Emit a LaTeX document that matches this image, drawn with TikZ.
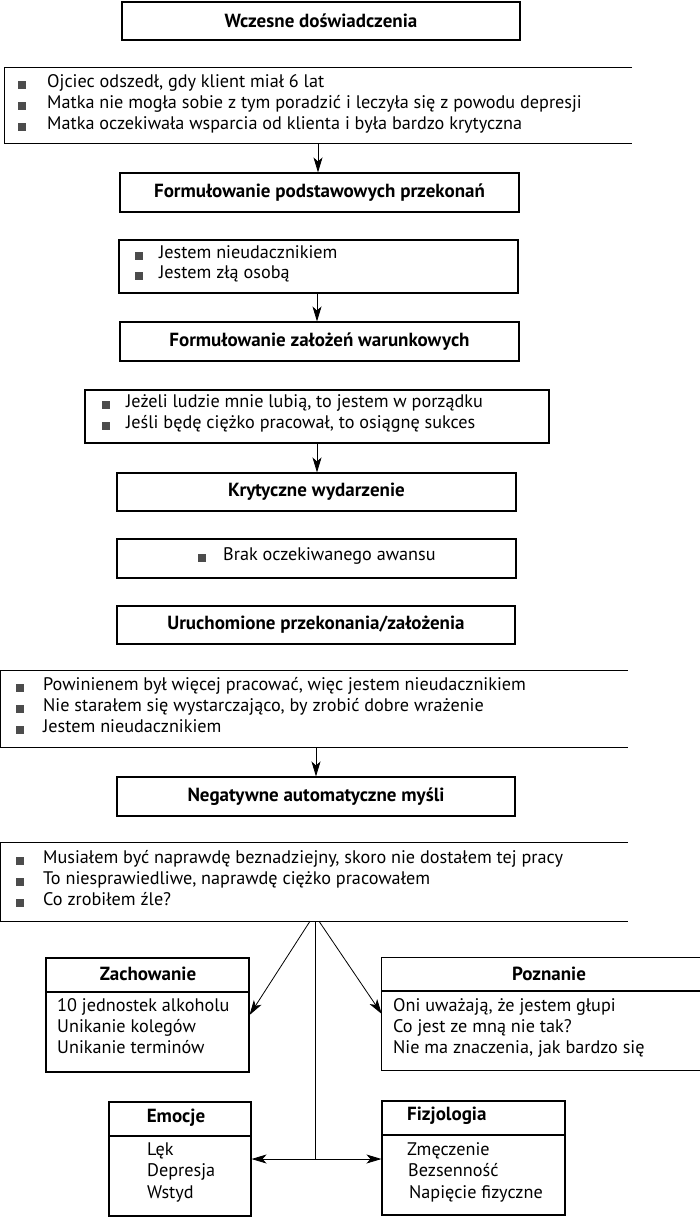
\documentclass[tikz,border=0pt]{standalone}
\usepackage{fontspec}
\setmainfont{PT Sans}
\usetikzlibrary{arrows.meta,calc}
\newcommand\bitem[5]{%
  \node[bul] (#1b) at (#2,#4) {};
  \node[txt] (#1) at (#3,#4) {#5};}
\begin{document}
\begin{tikzpicture}[x=1pt,y=-1pt,
  box/.style={draw, line width=1.1pt, inner sep=0pt, font=\bfseries\fontsize{19}{22}\selectfont},
  obox/.style={inner sep=0pt},
  edge/.style={line width=1.1pt},
  txt/.style={anchor=mid west, inner sep=0pt, font=\fontsize{18.2}{21}\selectfont},
  ttl/.style={inner sep=0pt, font=\bfseries\fontsize{19}{22}\selectfont},
  bul/.style={fill=black!70, minimum size=7.5pt, inner sep=0pt},
  arr/.style={-{Stealth[length=15pt,width=9pt,inset=4pt]}, line width=0.8pt},
  con/.style={line width=0.8pt}]
\useasboundingbox (0,0) rectangle (700,1218);
\fill[white] (0,0) rectangle (700,1218);

% 1
\node[box, minimum width=398pt, minimum height=38pt] (b1) at (321,21) {Wczesne doświadczenia};
% 2
\node[obox, minimum width=627pt, minimum height=75pt] (b2) at (318.5,105.5) {};
\draw[edge] (b2.north east) -- (b2.north west) -- (b2.south west) -- (b2.south east);
\bitem{i21}{22}{47}{85}{Ojciec odszedł, gdy klient miał 6 lat}
\bitem{i22}{22}{47}{106}{Matka nie mogła sobie z tym poradzić i leczyła się z powodu depresji}
\bitem{i23}{22}{47}{127}{Matka oczekiwała wsparcia od klienta i była bardzo krytyczna}
% 3
\node[box, minimum width=399pt, minimum height=39pt] (b3) at (319.5,192.5) {Formułowanie podstawowych przekonań};
% 4
\node[box, minimum width=399pt, minimum height=53pt] (b4) at (318.5,266.5) {};
\bitem{i41}{139}{159}{256}{Jestem nieudacznikiem}
\bitem{i42}{139}{159}{276}{Jestem złą osobą}
% 5
\node[box, minimum width=399pt, minimum height=39pt] (b5) at (319.5,341.5) {Formułowanie założeń warunkowych};
% 6
\node[box, minimum width=464pt, minimum height=53pt] (b6) at (317,416.5) {};
\bitem{i61}{106}{126}{405}{Jeżeli ludzie mnie lubią, to jestem w porządku}
\bitem{i62}{106}{126}{426}{Jeśli będę ciężko pracował, to osiągnę sukces}
% 7
\node[box, minimum width=399pt, minimum height=38pt] (b7) at (316.5,492) {Krytyczne wydarzenie};
% 8
\node[box, minimum width=399pt, minimum height=39pt] (b8) at (316.5,558.5) {};
\bitem{i81}{202}{223}{558}{Brak oczekiwanego awansu}
% 9
\node[box, minimum width=398pt, minimum height=38pt] (b9) at (316,625) {Uruchomione przekonania/założenia};
% 10
\node[obox, minimum width=627pt, minimum height=76pt] (b10) at (314.5,709) {};
\draw[edge] (b10.north east) -- (b10.north west) -- (b10.south west) -- (b10.south east);
\bitem{i101}{20}{43}{688}{Powinienem był więcej pracować, więc jestem nieudacznikiem}
\bitem{i102}{20}{43}{709}{Nie starałem się wystarczająco, by zrobić dobre wrażenie}
\bitem{i103}{20}{43}{730}{Jestem nieudacznikiem}
% 11
\node[box, minimum width=398pt, minimum height=39pt] (b11) at (316,796.5) {Negatywne automatyczne myśli};
% 12
\node[obox, minimum width=627pt, minimum height=78pt] (b12) at (314.5,882) {};
\draw[edge] (b12.north east) -- (b12.north west) -- (b12.south west) -- (b12.south east);
\bitem{i121}{20}{43}{861}{Musiałem być naprawdę beznadziejny, skoro nie dostałem tej pracy}
\bitem{i122}{20}{43}{882}{To niesprawiedliwe, naprawdę ciężko pracowałem}
\bitem{i123}{20}{43}{903}{Co zrobiłem źle?}

% Zachowanie
\node[box, minimum width=203pt, minimum height=114pt] (zb) at (147.5,1015) {};
\draw[edge] (46,992) coordinate (zl) -- (249,992) coordinate (zr);
\node[ttl] (zt) at (148,974) {Zachowanie};
\node[txt] (z1) at (57,1009) {10 jednostek alkoholu};
\node[txt] (z2) at (57,1030) {Unikanie kolegów};
\node[txt] (z3) at (57,1051) {Unikanie terminów};

% Poznanie
\node[obox, minimum width=318pt, minimum height=112pt] (pb) at (541,1014) {};
\draw[edge] (pb.north east) -- (pb.north west) -- (pb.south west) -- (pb.south east);
\draw[edge] (382,991) coordinate (pl) -- (700,991) coordinate (pr);
\node[ttl] (pt) at (549,974) {Poznanie};
\node[txt] (p1) at (393,1009) {Oni uważają, że jestem głupi};
\node[txt] (p2) at (393,1030) {Co jest ze mną nie tak?};
\node[txt] (p3) at (393,1051) {Nie ma znaczenia, jak bardzo się};

% Emocje
\node[box, minimum width=142pt, minimum height=114pt] (eb) at (180,1159) {};
\draw[edge] (109,1136) coordinate (el) -- (251,1136) coordinate (er);
\node[ttl] (et) at (176,1118) {Emocje};
\node[txt] (e1) at (147,1153) {Lęk};
\node[txt] (e2) at (147,1174) {Depresja};
\node[txt] (e3) at (147,1196) {Wstyd};

% Fizjologia
\node[box, minimum width=183pt, minimum height=114pt] (fb) at (473.5,1158) {};
\draw[edge] (382,1135) coordinate (fl) -- (565,1135) coordinate (fr);
\node[ttl, anchor=mid west] (ft) at (407,1118) {Fizjologia};
\node[txt] (f1) at (407,1153) {Zmęczenie};
\node[txt] (f2) at (408,1174) {Bezsenność};
\node[txt] (f3) at (409,1196) {Napięcie fizyczne};

% connectors
\draw[arr] (b2.south -| 318,0) -- (b3.north -| 318,0);
\draw[arr] (b4.south -| 317,0) -- (b5.north -| 317,0);
\draw[arr] (b6.south -| 317,0) -- (b7.north -| 317,0);
\draw[arr] (b10.south -| 316,0) -- (b11.north -| 316,0);

\coordinate (hub) at (315,1159);
\draw[arr] (b12.south -| 310,0) -- (zb.east |- 0,1015);
\draw[arr] (b12.south -| 319,0) -- (pb.west |- 0,1014);
\draw[con] (b12.south -| hub) -- (hub);
\draw[arr] (hub) -- (eb.east |- hub);
\draw[arr] (hub) -- (fb.west |- hub);
\end{tikzpicture}
\end{document}
